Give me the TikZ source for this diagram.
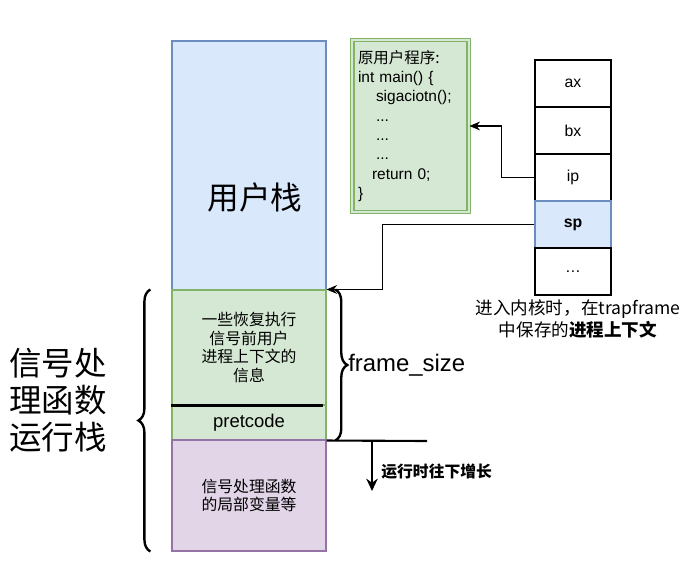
\documentclass[tikz,border=0pt]{standalone}
\usepackage{fontspec}
\setmainfont{Liberation Sans}
\newfontfamily\cjk{Noto Sans CJK SC}
\usetikzlibrary{arrows.meta,decorations.pathreplacing,positioning}
\definecolor{ublue}{HTML}{DAE8FC}
\definecolor{ubluedk}{HTML}{6C8EBF}
\definecolor{ugreen}{HTML}{D5E8D4}
\definecolor{ugreendk}{HTML}{82B366}
\definecolor{upurple}{HTML}{E1D5E7}
\definecolor{upurpledk}{HTML}{9673A6}
\tikzset{
  blk/.style={draw, line width=0.6pt, minimum width=3.08cm, inner sep=0pt, align=center,
    font=\cjk\fontsize{9}{10.8}\selectfont},
  cell/.style={draw, line width=0.6pt, minimum width=1.52cm, minimum height=0.94cm,
    inner sep=0pt, font=\fontsize{9}{11}\selectfont},
  bracebar/.style={decorate, decoration={brace, amplitude=0.24cm}, line width=1.35pt},
  thk/.style={line width=1.2pt},
  arr/.style={-{Stealth[length=6pt,width=5pt]}, line width=0.6pt}
}
\begin{document}
\begin{tikzpicture}[x=0.02cm,y=-0.02cm]
  \path[use as bounding box, fill=white] (0,0) rectangle (687,568);
  % signal stack
  \node[blk, fill=ublue, draw=ubluedk, minimum height=4.98cm] (ustack) at (249,165.5) {};
  \node[font=\cjk\fontsize{18}{20}\selectfont] (ulabel) at (255,197) {用户栈};
  \node[blk, fill=ugreen, draw=ugreendk, minimum height=2.3cm] (info) at (249,347.5)
    {一些恢复执行\\信号前用户\\进程上下文的\\信息};
  \node[blk, fill=ugreen, draw=ugreendk, minimum height=0.7cm,
    font=\fontsize{10.5}{12}\selectfont] (pret) at (249,422.5) {pretcode};
  \draw[thk] (info.south west) -- ([xshift=-2]info.south east);
  \node[blk, fill=upurple, draw=upurpledk, minimum height=2.22cm] (local) at (249,495.5)
    {信号处理函数\\的局部变量等};
  % braces
  \draw[bracebar] ([xshift=-12]local.south west) -- ([xshift=-12]info.north west);
  \node[font=\cjk\fontsize{18.5}{21}\selectfont, align=center] (sigstack) at (58,400)
    {信号处\\理函数\\运行栈};
  \draw[bracebar] ([xshift=5]info.north east) -- ([xshift=5]pret.south east);
  \node[anchor=west, inner sep=0pt, font=\fontsize{13.6}{15}\selectfont] (fsize) at (348,365) {frame\_size};
  % growth direction
  \coordinate (gend) at (427,441);
  \coordinate (gtop) at (372,441);
  \coordinate (gbot) at (372,491);
  \draw[thk] (pret.south east) -- (gend);
  \draw[thk, -{Stealth[length=7pt,width=6.5pt]}] (gtop) -- (gbot);
  \node[anchor=west, inner sep=0pt, font=\cjk\bfseries\fontsize{9}{11}\selectfont] (grow) at (381,472) {运行时往下增长};
  % original program
  \node[draw=ugreendk, double=ugreen, double distance=1.4pt, line width=0.7pt, fill=ugreen,
    minimum width=2.3cm, minimum height=3.44cm, text width=2.1cm, align=left,
    font=\fontsize{8.8}{11}\selectfont] (code) at (410.5,126)
    {{\cjk 原用户程序:}\\int main() \{\\\hspace*{0.36cm}sigaciotn();\\\hspace*{0.36cm}...\\
     \hspace*{0.36cm}...\\\hspace*{0.36cm}...\\\hspace*{0.28cm}return 0;\\\}};
  % trapframe
  \foreach \n/\t/\c/\d [count=\i from 0] in {ax/ax/white/black, bx/bx/white/black,
      ip/ip/white/black, sp/\textbf{sp}/ublue/ubluedk, dots/\ldots/white/black}
    \node[cell, fill=\c, draw=\d] (\n) at (573,83.5+47*\i) {\t};
  \node[font=\cjk\fontsize{10}{12.5}\selectfont, align=center] (tfnote) at (578,319)
    {进入内核时，在trapframe\\中保存的\textbf{进程上下文}};
  \draw[arr] (ip.west) -- ++(-33,0) |- (code.east);
  \draw[arr] (sp.west) -- ++(-152,0) |- (info.north east);
\end{tikzpicture}
\end{document}
